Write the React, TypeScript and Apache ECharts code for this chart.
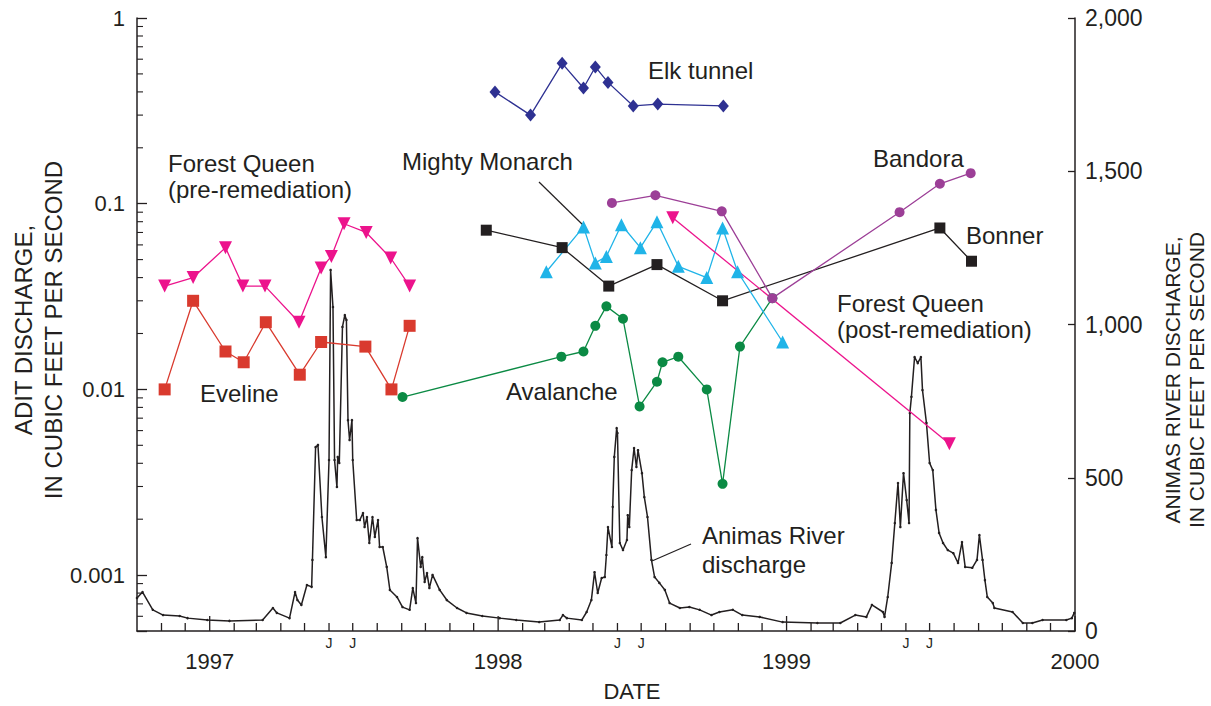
import React, { useEffect, useRef } from 'react';
import * as echarts from 'echarts';

const INK = '#231f20';
const FONT = "'Liberation Sans', Arial, Helvetica, sans-serif";

// ---- axis structure ----
const X_MIN = new Date(1996, 9, 1).getTime();
const X_MAX = new Date(2000, 0, 1).getTime();
const LEFT_MIN = 0.0005;
const LEFT_MAX = 1;
const RIGHT_MIN = 0;
const RIGHT_MAX = 2000;
const RIGHT_INTERVAL = 500;
const leftTickLabels: [number, string][] = [[0.001, '0.001'], [0.01, '0.01'], [0.1, '0.1'], [1, '1']];
const leftMinorTicks = [
  0.0006, 0.0007, 0.0008, 0.0009,
  0.002, 0.003, 0.004, 0.005, 0.006, 0.007, 0.008, 0.009,
  0.02, 0.03, 0.04, 0.05, 0.06, 0.07, 0.08, 0.09,
  0.2, 0.3, 0.4, 0.5, 0.6, 0.7, 0.8, 0.9,
];
const yearLabels = ['1997', '1998', '1999', '2000'];
const monthLetterLabels: Record<number, string> = { 5: 'J', 6: 'J' };

// ---- adit discharge (cubic feet per second), left log axis ----
const forestQueenPre: [string, number][] = [
  ['1996-11-05', 0.036], ['1996-12-11', 0.040], ['1997-01-21', 0.058], ['1997-02-12', 0.036],
  ['1997-03-12', 0.036], ['1997-04-24', 0.023], ['1997-05-22', 0.045], ['1997-06-04', 0.052],
  ['1997-06-20', 0.078], ['1997-07-18', 0.070], ['1997-08-18', 0.051], ['1997-09-11', 0.036],
];
const forestQueenPost: [string, number][] = [
  ['1998-08-10', 0.084], ['1999-07-26', 0.0051],
];
const eveline: [string, number][] = [
  ['1996-11-05', 0.010], ['1996-12-11', 0.030], ['1997-01-21', 0.016], ['1997-02-13', 0.014],
  ['1997-03-13', 0.023], ['1997-04-25', 0.012], ['1997-05-22', 0.018], ['1997-07-17', 0.017],
  ['1997-08-19', 0.010], ['1997-09-11', 0.022],
];
const avalanche: [string, number][] = [
  ['1997-09-02', 0.0091], ['1998-03-22', 0.015], ['1998-04-19', 0.016], ['1998-05-04', 0.022],
  ['1998-05-18', 0.028], ['1998-06-08', 0.024], ['1998-06-29', 0.0081], ['1998-07-21', 0.011],
  ['1998-07-28', 0.014], ['1998-08-17', 0.015], ['1998-09-22', 0.010], ['1998-10-12', 0.0031],
  ['1998-11-03', 0.017], ['1998-12-14', 0.031],
];
const elkTunnel: [string, number][] = [
  ['1997-12-28', 0.40], ['1998-02-11', 0.30], ['1998-03-23', 0.57], ['1998-04-19', 0.42],
  ['1998-05-04', 0.545], ['1998-05-20', 0.45], ['1998-06-21', 0.336], ['1998-07-22', 0.344],
  ['1998-10-13', 0.336],
];
const mightyMonarch: [string, number][] = [
  ['1998-03-03', 0.043], ['1998-04-19', 0.075], ['1998-05-04', 0.048], ['1998-05-18', 0.052],
  ['1998-06-06', 0.077], ['1998-06-30', 0.058], ['1998-07-21', 0.080], ['1998-08-17', 0.046],
  ['1998-09-22', 0.040], ['1998-10-12', 0.074], ['1998-10-31', 0.043], ['1998-12-27', 0.018],
];
const bonner: [string, number][] = [
  ['1997-12-17', 0.072], ['1998-03-23', 0.058], ['1998-05-21', 0.036], ['1998-07-21', 0.047],
  ['1998-10-12', 0.030], ['1999-07-14', 0.074], ['1999-08-23', 0.049],
];
const bandora: [string, number][] = [
  ['1998-05-25', 0.101], ['1998-07-19', 0.111], ['1998-10-11', 0.091], ['1998-12-14', 0.031],
  ['1999-05-24', 0.090], ['1999-07-14', 0.128], ['1999-08-22', 0.146],
];

// ---- Animas River discharge (cubic feet per second), right linear axis ----
const animasDischarge: [string, number][] = [
  ['1996-10-01', 108], ['1996-10-08', 127], ['1996-10-21', 69], ['1996-11-03', 52], ['1996-11-24', 49],
  ['1996-12-04', 42], ['1996-12-29', 36], ['1997-01-26', 33], ['1997-03-09', 36], ['1997-03-22', 75],
  ['1997-03-27', 59], ['1997-04-12', 42], ['1997-04-19', 127], ['1997-04-22', 101], ['1997-04-27', 85],
  ['1997-05-04', 150], ['1997-05-10', 144], ['1997-05-11', 232], ['1997-05-15', 600], ['1997-05-18', 607],
  ['1997-05-23', 372], ['1997-05-28', 241], ['1997-06-01', 558], ['1997-06-03', 1178], ['1997-06-06', 1057],
  ['1997-06-08', 558], ['1997-06-11', 470], ['1997-06-12', 568], ['1997-06-14', 548], ['1997-06-18', 992],
  ['1997-06-21', 1031], ['1997-06-23', 1015], ['1997-06-25', 688], ['1997-06-27', 623], ['1997-06-30', 688],
  ['1997-07-01', 558], ['1997-07-06', 362], ['1997-07-10', 362], ['1997-07-14', 385], ['1997-07-16', 339],
  ['1997-07-19', 372], ['1997-07-22', 287], ['1997-07-26', 372], ['1997-07-29', 307], ['1997-08-02', 362],
  ['1997-08-04', 274], ['1997-08-08', 274], ['1997-08-13', 209], ['1997-08-17', 134], ['1997-08-26', 111],
  ['1997-09-02', 78], ['1997-09-11', 69], ['1997-09-15', 140], ['1997-09-19', 91], ['1997-09-21', 303],
  ['1997-09-25', 209], ['1997-09-27', 241], ['1997-09-30', 160], ['1997-10-03', 189], ['1997-10-06', 140],
  ['1997-10-10', 183], ['1997-10-19', 134], ['1997-10-28', 101], ['1997-11-10', 75], ['1997-11-22', 59],
  ['1997-12-12', 49], ['1998-01-03', 42], ['1998-01-24', 36], ['1998-02-22', 29], ['1998-03-20', 36],
  ['1998-03-24', 52], ['1998-03-29', 42], ['1998-04-17', 36], ['1998-04-23', 62], ['1998-04-29', 101],
  ['1998-05-03', 192], ['1998-05-07', 124], ['1998-05-12', 173], ['1998-05-16', 176], ['1998-05-18', 248],
  ['1998-05-20', 339], ['1998-05-25', 274], ['1998-05-26', 405], ['1998-05-28', 568], ['1998-05-31', 662],
  ['1998-06-01', 646], ['1998-06-04', 287], ['1998-06-08', 264], ['1998-06-13', 297], ['1998-06-14', 378],
  ['1998-06-16', 339], ['1998-06-19', 525], ['1998-06-22', 597], ['1998-06-25', 535], ['1998-06-27', 590],
  ['1998-07-02', 515], ['1998-07-05', 437], ['1998-07-09', 372], ['1998-07-14', 232], ['1998-07-18', 176],
  ['1998-07-24', 157], ['1998-07-31', 134], ['1998-08-06', 91], ['1998-08-19', 75], ['1998-08-31', 78],
  ['1998-09-13', 69], ['1998-09-28', 52], ['1998-10-08', 62], ['1998-10-25', 69], ['1998-11-06', 52],
  ['1998-11-28', 46], ['1998-12-27', 29], ['1999-02-09', 26], ['1999-03-10', 26], ['1999-03-29', 52],
  ['1999-04-12', 46], ['1999-04-19', 85], ['1999-05-03', 62], ['1999-05-05', 46], ['1999-05-09', 111],
  ['1999-05-14', 222], ['1999-05-18', 352], ['1999-05-22', 483], ['1999-05-25', 339], ['1999-05-29', 515],
  ['1999-06-02', 427], ['1999-06-05', 352], ['1999-06-06', 711], ['1999-06-08', 764], ['1999-06-12', 894],
  ['1999-06-16', 874], ['1999-06-20', 894], ['1999-06-22', 786], ['1999-06-27', 679], ['1999-07-01', 548],
  ['1999-07-05', 525], ['1999-07-09', 395], ['1999-07-13', 320], ['1999-07-18', 287], ['1999-07-24', 264],
  ['1999-07-31', 254], ['1999-08-06', 222], ['1999-08-11', 290], ['1999-08-15', 209], ['1999-08-24', 206],
  ['1999-08-30', 232], ['1999-09-02', 313], ['1999-09-06', 232], ['1999-09-09', 166], ['1999-09-12', 111],
  ['1999-09-19', 91], ['1999-09-21', 75], ['1999-10-14', 62], ['1999-10-27', 26], ['1999-11-08', 26],
  ['1999-11-21', 36], ['1999-12-21', 36], ['1999-12-28', 42], ['1999-12-31', 59],
];

type MonthTick = { t: number; major: boolean; label: string };
function buildMonthTicks(): MonthTick[] {
  const out: MonthTick[] = [];
  let y = 1996;
  let m = 10;
  while (y < 2000 || (y === 2000 && m === 0)) {
    const major = m === 0;
    const label = major ? yearLabels[y - 1997] || '' : monthLetterLabels[m] || '';
    out.push({ t: new Date(y, m, 1).getTime(), major, label });
    m += 1;
    if (m > 11) { m = 0; y += 1; }
  }
  return out;
}

const adit = (name: string, data: [string, number][], color: string, symbol: string, size: number | number[], extra: any = {}) => ({
  name,
  type: 'line',
  xAxisIndex: 0,
  yAxisIndex: 0,
  data,
  symbol,
  symbolSize: size,
  showAllSymbol: true,
  lineStyle: { color, width: 1.3 },
  itemStyle: { color, borderWidth: 0 },
  emphasis: { disabled: true },
  silent: true,
  z: 3,
  ...extra,
});

const labelText = (text: string, x: number, y: number) => ({
  type: 'text',
  x,
  y,
  z: 50,
  silent: true,
  style: { text, fontSize: 24, fontFamily: FONT, fill: INK, align: 'left', verticalAlign: 'middle' },
});

export default function App() {
  const ref = useRef<HTMLDivElement>(null);

  useEffect(() => {
    if (!ref.current) return;
    const chart = echarts.init(ref.current, undefined, { renderer: 'svg' });
    const monthTicks = buildMonthTicks();
    const axisLine = { show: true, onZero: false, lineStyle: { color: INK, width: 1.5 } };

    const option: any = {
      animation: false,
      backgroundColor: '#ffffff',
      grid: { left: 137, right: 136, top: 18, bottom: 75, containLabel: false, outerBoundsMode: 'none' },
      xAxis: {
        type: 'time',
        min: X_MIN,
        max: X_MAX,
        axisLine,
        axisTick: { show: false },
        axisLabel: { show: false },
        splitLine: { show: false },
      },
      yAxis: [
        {
          type: 'log',
          logBase: 10,
          min: LEFT_MIN,
          max: LEFT_MAX,
          position: 'left',
          axisLine,
          axisTick: { show: true, inside: true, length: 10, lineStyle: { color: INK, width: 1.3 } },
          minorTick: { show: false },
          splitLine: { show: false },
          axisLabel: {
            margin: 12,
            fontSize: 22,
            fontFamily: FONT,
            color: INK,
            formatter: (v: number) => {
              const l = Math.log10(v);
              const hit = leftTickLabels.find(([t]) => Math.abs(Math.log10(t) - l) < 1e-6);
              return hit ? hit[1] : '';
            },
          },
        },
        {
          type: 'value',
          min: RIGHT_MIN,
          max: RIGHT_MAX,
          interval: RIGHT_INTERVAL,
          position: 'right',
          axisLine,
          axisTick: { show: true, inside: true, length: 7, lineStyle: { color: INK, width: 1.3 } },
          splitLine: { show: false },
          axisLabel: {
            margin: 10,
            fontSize: 23,
            fontFamily: FONT,
            color: INK,
            formatter: (v: number) => v.toLocaleString('en-US'),
          },
        },
      ],
      series: [
        {
          name: 'Animas River discharge',
          type: 'line',
          xAxisIndex: 0,
          yAxisIndex: 1,
          data: animasDischarge,
          symbol: 'circle',
          symbolSize: 2.5,
          showAllSymbol: true,
          lineStyle: { color: INK, width: 1.5 },
          itemStyle: { color: INK },
          emphasis: { disabled: true },
          silent: true,
          z: 2,
        },
        adit('Avalanche', avalanche, '#0b8a44', 'circle', 10),
        adit('Bonner', bonner, INK, 'rect', 11),
        adit('Mighty Monarch', mightyMonarch, '#20b4e8', 'triangle', 13),
        adit('Bandora', bandora, '#9c3f97', 'circle', 10),
        adit('Forest Queen (post-remediation)', forestQueenPost, '#ec138c', 'triangle', 13, { symbolRotate: 180 }),
        adit('Forest Queen (pre-remediation)', forestQueenPre, '#ec138c', 'triangle', 13, { symbolRotate: 180 }),
        adit('Eveline', eveline, '#d93a2e', 'rect', 12),
        adit('Elk tunnel', elkTunnel, '#2e3192', 'diamond', [11, 13]),
        {
          name: 'month ticks',
          type: 'custom',
          xAxisIndex: 0,
          yAxisIndex: 1,
          clip: false,
          silent: true,
          z: 10,
          data: monthTicks.map((d) => [d.t, 0]),
          renderItem: (params: any, api: any) => {
            const tick = monthTicks[params.dataIndex];
            const p = api.coord([api.value(0), 0]);
            const len = tick.major ? 15 : 8;
            const children: any[] = [
              { type: 'line', shape: { x1: p[0], y1: p[1], x2: p[0], y2: p[1] - len }, style: { stroke: INK, lineWidth: 1.3 } },
            ];
            if (tick.label) {
              children.push({
                type: 'text',
                x: p[0],
                y: p[1] + (tick.major ? 30 : 12),
                style: {
                  text: tick.label,
                  fontSize: tick.major ? 22 : 14,
                  fontFamily: FONT,
                  fill: INK,
                  align: 'center',
                  verticalAlign: 'middle',
                },
              });
            }
            return { type: 'group', children };
          },
        },
        {
          name: 'log minor ticks',
          type: 'custom',
          xAxisIndex: 0,
          yAxisIndex: 0,
          clip: false,
          silent: true,
          z: 10,
          data: leftMinorTicks.map((v) => [X_MIN, v]),
          renderItem: (params: any, api: any) => {
            const p = api.coord([api.value(0), api.value(1)]);
            return {
              type: 'line',
              shape: { x1: p[0], y1: p[1], x2: p[0] + 6, y2: p[1] },
              style: { stroke: INK, lineWidth: 1.1 },
            };
          },
        },
      ],
      graphic: [
        {
          type: 'text',
          x: 38,
          y: 330,
          rotation: Math.PI / 2,
          silent: true,
          style: {
            text: 'ADIT DISCHARGE,\nIN CUBIC FEET PER SECOND',
            fontSize: 24,
            lineHeight: 30,
            fontFamily: FONT,
            fill: INK,
            align: 'center',
            verticalAlign: 'middle',
          },
        },
        {
          type: 'text',
          x: 1184,
          y: 380,
          rotation: Math.PI / 2,
          silent: true,
          style: {
            text: 'ANIMAS RIVER DISCHARGE,\nIN CUBIC FEET PER SECOND',
            fontSize: 21,
            lineHeight: 24,
            fontFamily: FONT,
            fill: INK,
            align: 'center',
            verticalAlign: 'middle',
          },
        },
        {
          type: 'text',
          x: 632,
          y: 691,
          silent: true,
          style: { text: 'DATE', fontSize: 22, fontFamily: FONT, fill: INK, align: 'center', verticalAlign: 'middle' },
        },
        labelText('Forest Queen', 168, 163.5),
        labelText('(pre-remediation)', 168, 189),
        labelText('Eveline', 200, 393.5),
        labelText('Mighty Monarch', 402, 161.5),
        labelText('Elk tunnel', 648, 70.5),
        labelText('Avalanche', 506, 391.5),
        labelText('Bandora', 873, 158.5),
        labelText('Bonner', 966, 235),
        labelText('Forest Queen', 837, 303),
        labelText('(post-remediation)', 837, 329),
        labelText('Animas River', 702, 535),
        labelText('discharge', 702, 564),
        {
          type: 'line',
          silent: true,
          shape: { x1: 539, y1: 182, x2: 584, y2: 226 },
          style: { stroke: INK, lineWidth: 1.2 },
        },
        {
          type: 'line',
          silent: true,
          shape: { x1: 691, y1: 544, x2: 652, y2: 561 },
          style: { stroke: INK, lineWidth: 1.2 },
        },
      ],
    };

    chart.setOption(option);
    return () => chart.dispose();
  }, []);

  return (
    <div
      ref={ref}
      style={{ position: 'fixed', left: 0, top: 0, width: 1211, height: 706, background: '#fff' }}
    />
  );
}
